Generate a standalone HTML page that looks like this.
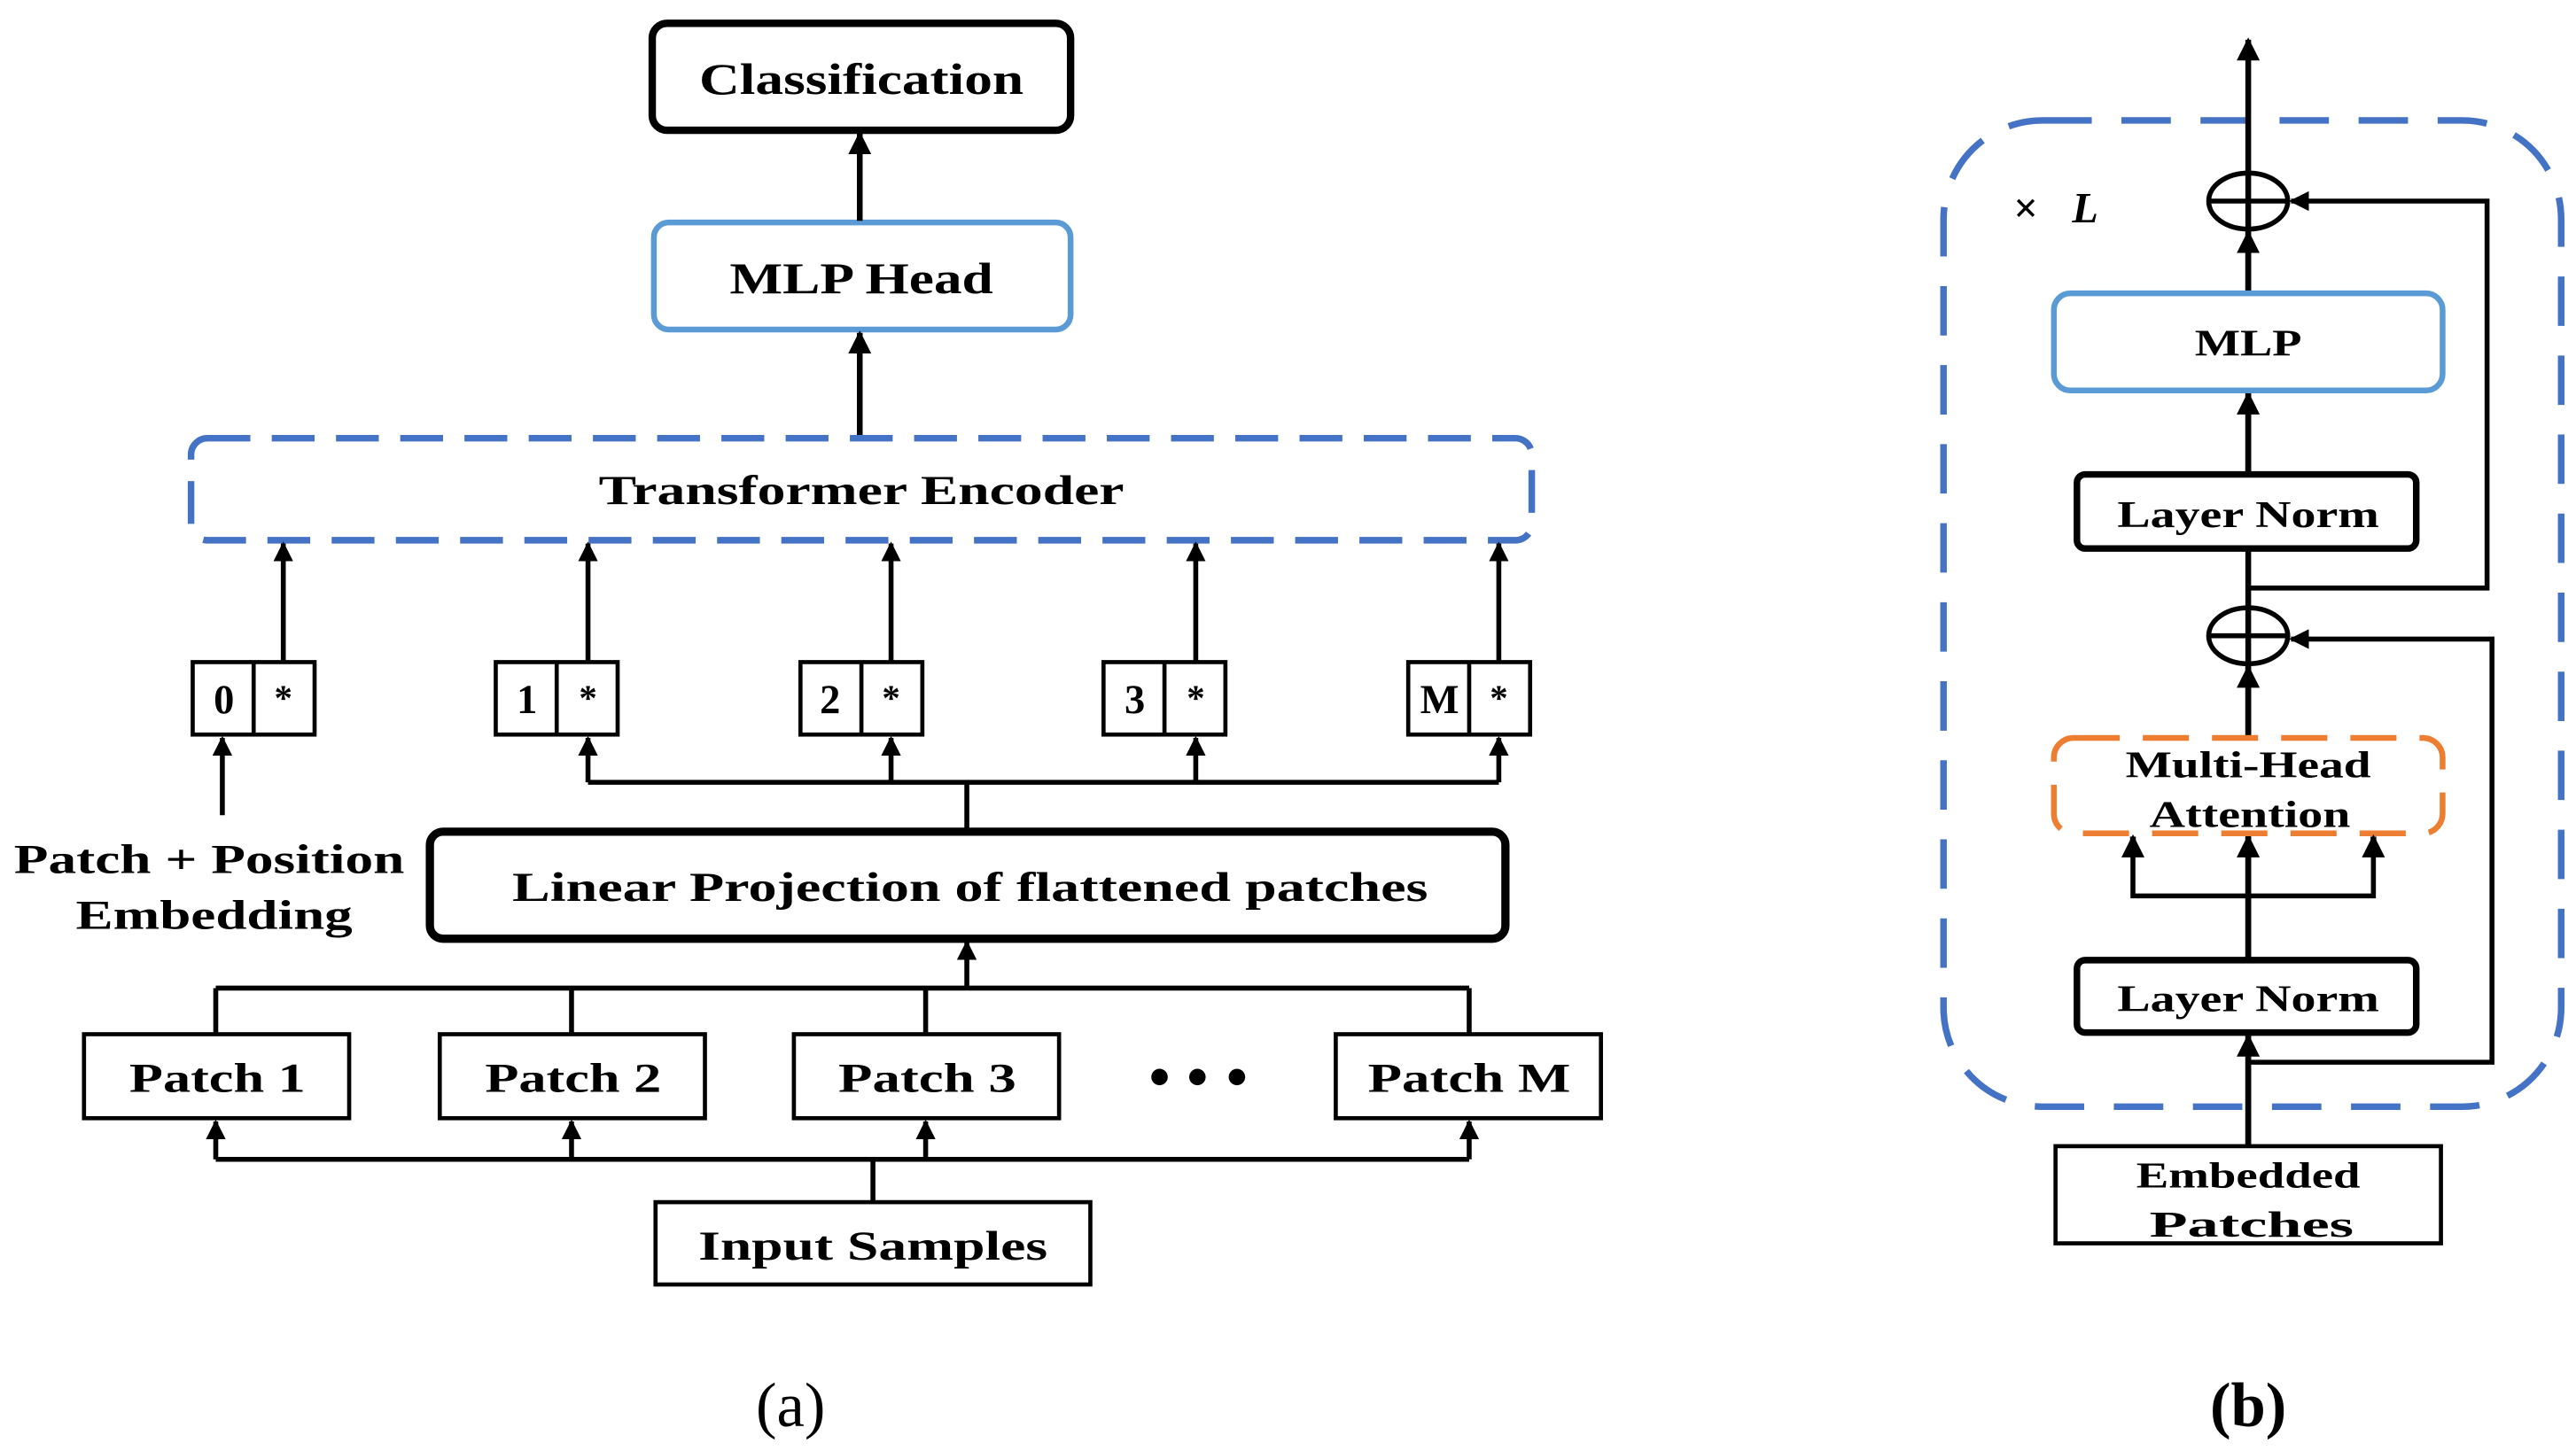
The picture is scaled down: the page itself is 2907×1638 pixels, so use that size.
<!DOCTYPE html>
<html><head><meta charset="utf-8"><style>html,body{margin:0;padding:0;background:#fff}svg{display:block}</style></head>
<body>
<svg width="2907" height="1638" viewBox="0 0 1564 881" xmlns="http://www.w3.org/2000/svg" font-family="Liberation Serif, serif" font-weight="bold">
<defs>
<marker id="ah" viewBox="0 0 10 10" refX="9" refY="5" markerWidth="4" markerHeight="4" orient="auto-start-reverse"><path d="M0,0 L10,5 L0,10 z" fill="#000"/></marker>
</defs>
<g fill="none" stroke="#000" stroke-width="3.5">
<rect x="396" y="14" width="254" height="65" rx="9" stroke-width="4.5"/>
<rect x="397" y="135" width="253" height="65" rx="9" stroke="#5b9bd5" stroke-width="3.5"/>
<line x1="522" y1="134" x2="522" y2="81" marker-end="url(#ah)"/>
<line x1="522" y1="265" x2="522" y2="202" marker-end="url(#ah)"/>
<rect x="116" y="266" width="814" height="62" rx="10" stroke="#4472c4" stroke-width="4" stroke-dasharray="26 13"/>
<g stroke-width="2.5">
<rect x="117" y="402" width="74" height="44"/><line x1="154" y1="402" x2="154" y2="446"/>
<rect x="301" y="402" width="74" height="44"/><line x1="338" y1="402" x2="338" y2="446"/>
<rect x="486" y="402" width="74" height="44"/><line x1="523" y1="402" x2="523" y2="446"/>
<rect x="670" y="402" width="74" height="44"/><line x1="707" y1="402" x2="707" y2="446"/>
<rect x="855" y="402" width="74" height="44"/><line x1="892" y1="402" x2="892" y2="446"/>
</g>
<g stroke-width="3">
<line x1="172" y1="402" x2="172" y2="330" marker-end="url(#ah)"/>
<line x1="357" y1="402" x2="357" y2="330" marker-end="url(#ah)"/>
<line x1="541" y1="402" x2="541" y2="330" marker-end="url(#ah)"/>
<line x1="726" y1="402" x2="726" y2="330" marker-end="url(#ah)"/>
<line x1="910" y1="402" x2="910" y2="330" marker-end="url(#ah)"/>
<line x1="135" y1="495" x2="135" y2="448" marker-end="url(#ah)"/>
<line x1="587" y1="505" x2="587" y2="475"/>
<line x1="357" y1="475" x2="910" y2="475"/>
<line x1="357" y1="475" x2="357" y2="448" marker-end="url(#ah)"/>
<line x1="541" y1="475" x2="541" y2="448" marker-end="url(#ah)"/>
<line x1="726" y1="475" x2="726" y2="448" marker-end="url(#ah)"/>
<line x1="910" y1="475" x2="910" y2="448" marker-end="url(#ah)"/>
</g>
<rect x="261" y="505" width="653" height="65" rx="8" stroke-width="5"/>
<g stroke-width="2.5">
<rect x="51" y="628" width="161" height="51"/>
<rect x="267" y="628" width="161" height="51"/>
<rect x="482" y="628" width="161" height="51"/>
<rect x="811" y="628" width="161" height="51"/>
<rect x="398" y="730" width="264" height="50"/>
</g>
<g stroke-width="3">
<line x1="131" y1="600" x2="892" y2="600"/>
<line x1="131" y1="600" x2="131" y2="628"/><line x1="347" y1="600" x2="347" y2="628"/><line x1="562" y1="600" x2="562" y2="628"/><line x1="892" y1="600" x2="892" y2="628"/>
<line x1="587" y1="600" x2="587" y2="572" marker-end="url(#ah)"/>
<line x1="131" y1="704" x2="892" y2="704"/>
<line x1="530" y1="730" x2="530" y2="704"/>
<line x1="131" y1="704" x2="131" y2="681" marker-end="url(#ah)"/>
<line x1="347" y1="704" x2="347" y2="681" marker-end="url(#ah)"/>
<line x1="562" y1="704" x2="562" y2="681" marker-end="url(#ah)"/>
<line x1="892" y1="704" x2="892" y2="681" marker-end="url(#ah)"/>
</g>
<rect x="1180" y="73" width="375" height="599" rx="60" stroke="#4472c4" stroke-width="4" stroke-dasharray="30 18"/>
<line x1="1365" y1="696" x2="1365" y2="24" marker-end="url(#ah)"/>
<ellipse cx="1365" cy="122" rx="24" ry="17" stroke-width="3"/>
<line x1="1341" y1="122" x2="1389" y2="122" stroke-width="3"/>
<ellipse cx="1365" cy="386" rx="24" ry="17" stroke-width="3"/>
<line x1="1341" y1="386" x2="1389" y2="386" stroke-width="3"/>
<line x1="1365" y1="178" x2="1365" y2="141" marker-end="url(#ah)"/>
<line x1="1365" y1="288" x2="1365" y2="239" marker-end="url(#ah)"/>
<line x1="1365" y1="448" x2="1365" y2="405" marker-end="url(#ah)"/>
<line x1="1365" y1="583" x2="1365" y2="508" marker-end="url(#ah)"/>
<line x1="1365" y1="696" x2="1365" y2="629" marker-end="url(#ah)"/>
<rect x="1247" y="178" width="236" height="59" rx="10" fill="#fff" stroke="#5b9bd5" stroke-width="3.5"/>
<rect x="1261" y="288" width="206" height="45" rx="5" fill="#fff" stroke-width="4"/>
<rect x="1261" y="583" width="206" height="44" rx="5" fill="#fff" stroke-width="4"/>
<rect x="1247" y="448" width="236" height="58" rx="12" fill="#fff" stroke="#ed7d31" stroke-width="3.5" stroke-dasharray="28 14"/>
<polyline points="1365,357 1510,357 1510,122 1391,122" stroke-width="3" marker-end="url(#ah)"/>
<polyline points="1365,645 1513,645 1513,388 1391,388" stroke-width="3" marker-end="url(#ah)"/>
<polyline points="1295,508 1295,544 1441,544 1441,508" stroke-width="3" fill="none"/>
<line x1="1295" y1="520" x2="1295" y2="508" marker-end="url(#ah)"/>
<line x1="1441" y1="520" x2="1441" y2="508" marker-end="url(#ah)"/>
<rect x="1248" y="696" width="234" height="59" stroke-width="2.5" fill="#fff"/>
</g>
<g fill="#000" text-anchor="middle" lengthAdjust="spacingAndGlyphs">
<text x="523" y="57" font-size="27" textLength="197" lengthAdjust="spacingAndGlyphs">Classification</text>
<text x="523" y="178" font-size="27" textLength="160" lengthAdjust="spacingAndGlyphs">MLP Head</text>
<text x="523" y="306" font-size="25" textLength="319" lengthAdjust="spacingAndGlyphs">Transformer Encoder</text>
<g font-size="25">
<text x="136" y="433">0</text><text x="320" y="433">1</text><text x="504" y="433">2</text><text x="689" y="433">3</text><text x="874" y="433">M</text>
</g>
<g font-size="22">
<text x="172" y="431">*</text><text x="357" y="431">*</text><text x="541" y="431">*</text><text x="726" y="431">*</text><text x="910" y="431">*</text>
</g>
<text x="127" y="530" font-size="25" textLength="237" lengthAdjust="spacingAndGlyphs">Patch + Position</text>
<text x="130" y="564" font-size="25" textLength="168" lengthAdjust="spacingAndGlyphs">Embedding</text>
<text x="589" y="547" font-size="25" textLength="556" lengthAdjust="spacingAndGlyphs">Linear Projection of flattened patches</text>
<g font-size="25">
<text x="132" y="663" textLength="107" lengthAdjust="spacingAndGlyphs">Patch 1</text>
<text x="348" y="663" textLength="107" lengthAdjust="spacingAndGlyphs">Patch 2</text>
<text x="563" y="663" textLength="108" lengthAdjust="spacingAndGlyphs">Patch 3</text>
<text x="892" y="663" textLength="123" lengthAdjust="spacingAndGlyphs">Patch M</text>
<text x="530" y="765" textLength="212" lengthAdjust="spacingAndGlyphs">Input Samples</text>
</g>
<circle cx="704" cy="654" r="5"/><circle cx="727" cy="654" r="5"/><circle cx="751" cy="654" r="5"/>
<text x="480" y="866" font-size="38" font-weight="normal">(a)</text>
<text x="1365" y="866" font-size="38">(b)</text>
<text x="1365" y="216" font-size="23" textLength="65" lengthAdjust="spacingAndGlyphs">MLP</text>
<text x="1365" y="320" font-size="23" textLength="159" lengthAdjust="spacingAndGlyphs">Layer Norm</text>
<text x="1365" y="614" font-size="23" textLength="159" lengthAdjust="spacingAndGlyphs">Layer Norm</text>
<text x="1365" y="472" font-size="23" textLength="149" lengthAdjust="spacingAndGlyphs">Multi-Head</text>
<text x="1366" y="502" font-size="23" textLength="122" lengthAdjust="spacingAndGlyphs">Attention</text>
<text x="1365" y="721" font-size="22" textLength="136" lengthAdjust="spacingAndGlyphs">Embedded</text>
<text x="1367" y="751" font-size="22" textLength="124" lengthAdjust="spacingAndGlyphs">Patches</text>
<text x="1230" y="135" font-size="26">×</text>
<text x="1266" y="135" font-size="26" font-style="italic">L</text>
</g>
</svg>
</body></html>
